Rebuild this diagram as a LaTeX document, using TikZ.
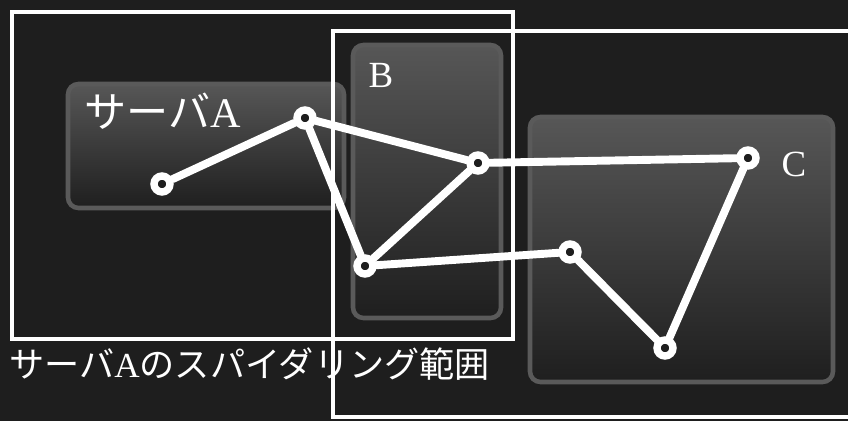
\documentclass[tikz,border=0pt]{standalone}
\usepackage{fontspec}
\setmainfont{Liberation Serif}
\newfontfamily\jpfont{Noto Sans CJK JP}
\definecolor{bgdark}{HTML}{1E1E1E}
\definecolor{boxedge}{HTML}{5A5A5A}
\tikzset{
    server/.style={draw=boxedge, line width=2.6pt, rounded corners=6pt,
        top color=black!66, bottom color=black!88},
    crawlarea/.style={draw=white, line width=2.8pt},
    hop/.style={draw=white, line width=4.5pt, line cap=round},
    page/.style={circle, draw=white, fill=bgdark, line width=4.2pt,
        minimum size=0.32cm, inner sep=0pt},
    lbl/.style={text=white, inner sep=0pt}
}
\begin{document}
\begin{tikzpicture}[x=0.02cm, y=-0.02cm]
            \useasboundingbox (0, 0) rectangle (848, 421);
            \fill[bgdark] (0, 0) rectangle (848, 421);

            % Servers
            \draw[server] (68, 84) rectangle (344, 208);
            \draw[server] (353, 45) rectangle (501, 318);
            \draw[server] (530, 117) rectangle (833, 382);

            % Labels
            \node[lbl, anchor=west] at (84, 111) (labA)
                {\fontsize{24}{26}\selectfont{\jpfont サーバ}A};
            \node[lbl] at (381, 75) (labB) {\fontsize{21}{24}\selectfont B};
            \node[lbl] at (794, 164) (labC) {\fontsize{21}{24}\selectfont C};
            \node[lbl, anchor=west] at (9, 364) (caption)
                {\fontsize{20}{24}\selectfont{\jpfont サーバ}A{\jpfont のスパイダリング範囲}};

            % Spidering ranges
            \draw[crawlarea] (12, 12) rectangle (513, 339);
            \draw[crawlarea] (333, 31) rectangle (870, 417);

            % Pages
            \node[page] at (162, 184) (p1) {};
            \node[page] at (305, 118) (p2) {};
            \node[page] at (478, 163) (p3) {};
            \node[page] at (365, 266) (p4) {};
            \node[page] at (570, 252) (p5) {};
            \node[page] at (665, 348) (p6) {};
            \node[page] at (748, 158) (p7) {};

            % Links
            \draw[hop] (p1) -- (p2);
            \draw[hop] (p2) -- (p3);
            \draw[hop] (p2) -- (p4);
            \draw[hop] (p4) -- (p3);
            \draw[hop] (p3) -- (p7);
            \draw[hop] (p4) -- (p5);
            \draw[hop] (p5) -- (p6);
            \draw[hop] (p6) -- (p7);
        \end{tikzpicture}
\end{document}
